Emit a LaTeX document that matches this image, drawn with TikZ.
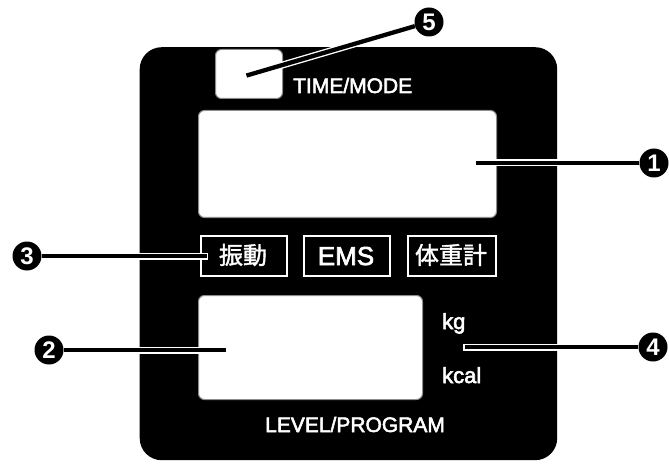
\documentclass[tikz,border=0pt]{standalone}
\usepackage{fontspec}
\setmainfont{Liberation Sans}
\newfontfamily\jpfont[FakeBold=1.6]{Noto Sans CJK JP}
\newfontfamily\medfont[FakeBold=2.6]{Liberation Sans}
\usetikzlibrary{backgrounds}
\tikzset{
  panel/.style={fill=black, rounded corners=22pt, inner sep=0pt, anchor=north west},
  display/.style={fill=white, draw=black!45, line width=1pt, rounded corners=6pt, inner sep=0pt, anchor=north west},
  modebox/.style={draw=white, line width=2pt, fill=black, inner sep=0pt, anchor=north west},
  label/.style={text=white, inner sep=0pt, font=\medfont\fontsize{21pt}{21pt}\selectfont},
  num/.style={circle, fill=black, text=white, inner sep=0pt, minimum size=29pt, font=\bfseries\fontsize{24pt}{24pt}\selectfont},
  lead/.style={draw=black, line width=4.3pt, shorten <=1.5pt, preaction={draw=white, line width=7pt, shorten <=0pt}},
}
\begin{document}
\begin{tikzpicture}[x=1pt, y=-1pt]
\useasboundingbox (0,0) rectangle (669,465);
% numbered markers
\node[num] (c1) at (654,163) {1};
\node[num] (c2) at (49,350) {2};
\node[num] (c3) at (27,256) {3};
\node[num] (c4) at (653,347) {4};
\node[num] (c5) at (429,22) {5};
\begin{scope}[on background layer]
\node[panel, minimum width=417.5pt, minimum height=413pt] (panel) at (139.5,47) {};
\node[display, minimum width=67pt, minimum height=49pt] (modebtn) at (215,49) {};
\node[display, minimum width=298pt, minimum height=107pt] (disp1) at (198,110) {};
\node[display, minimum width=224pt, minimum height=104pt] (disp2) at (198,295) {};
\node[modebox, minimum width=86pt, minimum height=40pt] (box1) at (200,235) {};
\node[modebox, minimum width=86pt, minimum height=40pt] (box2) at (303,235) {};
\node[modebox, minimum width=88pt, minimum height=40pt] (box3) at (407,235) {};
\node[label, anchor=base west] (tmode) at (293,93) {TIME/MODE};
\node[label, anchor=base] (lprog) at (355,432) {LEVEL/PROGRAM};
\node[label, anchor=base, font=\medfont\fontsize{26pt}{26pt}\selectfont] (ems) at (346,265) {EMS};
\node[label, anchor=center, font=\jpfont\fontsize{24pt}{24pt}\selectfont] (shindo) at (243,255) {振動};
\node[label, anchor=center, font=\jpfont\fontsize{24pt}{24pt}\selectfont] (taiju) at (451,255) {体重計};
\node[label, anchor=base west, font=\medfont\fontsize{22pt}{22pt}\selectfont] (kg) at (442,329) {kg};
\node[label, anchor=base west, font=\medfont\fontsize{22pt}{22pt}\selectfont] (kcal) at (442,383) {kcal};
\coordinate (p1) at (474,163);
\coordinate (p2) at (227,350);
\coordinate (p3) at (208,256);
\coordinate (p4) at (463,347);
\coordinate (p5) at (245,76);
\draw[lead] (p1) -- (c1);
\draw[lead] (p2) -- (c2);
\draw[lead] (p3) -- (c3);
\draw[lead] (p4) -- (c4);
\draw[lead] (p5) -- (c5);
\end{scope}
\end{tikzpicture}
\end{document}
